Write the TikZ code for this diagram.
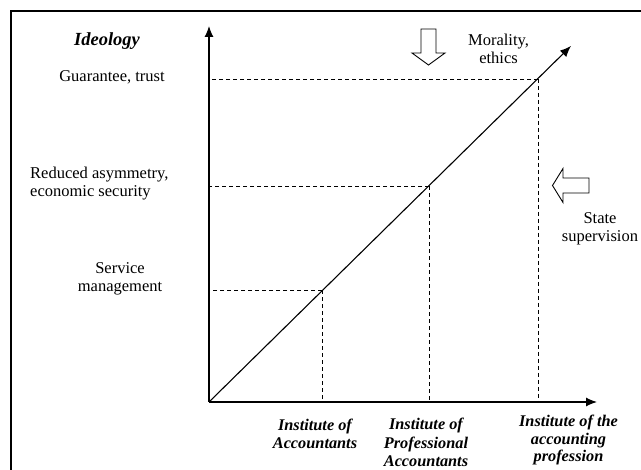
\documentclass[tikz,border=0pt]{standalone}
\usepackage{fontspec}
\setmainfont{Liberation Serif}
\usetikzlibrary{arrows.meta}
\begin{document}
\begin{tikzpicture}[x=1pt,y=-1pt,
  axis/.style={line width=1.1pt,-{Latex[length=11pt,width=9pt]}},
  guide/.style={line width=0.9pt,dash pattern=on 4pt off 3pt},
  label/.style={font=\fontsize{16.5pt}{18pt}\selectfont,inner sep=0pt,anchor=base},
  inst/.style={label,font=\fontsize{16.3pt}{18.5pt}\selectfont\bfseries\itshape},
  hollow/.style={line width=0.9pt,fill=white,line join=miter}]
  \useasboundingbox (0,0) rectangle (641,470);
  \clip (0,0) rectangle (641,470);

  % outer frame
  \draw[line width=1.5pt] (11,11) rectangle (650,480);

  % axes
  \coordinate (O) at (209,402);
  \coordinate (Ytop) at (209,26);
  \coordinate (Xend) at (597,402);
  \coordinate (Dend) at (571,46);
  \draw[axis] (O) -- (Ytop);
  \draw[axis] (O) -- (Xend);
  \draw[axis] (O) -- (Dend);

  % levels on the diagonal
  \coordinate (P1) at (322,290.5);
  \coordinate (P2) at (429,186.5);
  \coordinate (P3) at (538,79);
  \foreach \p in {P1,P2,P3}{
    \draw[guide] (\p) -- (\p -| O);
    \draw[guide] (\p) -- (\p |- O);
  }

  % influence arrows
  \draw[hollow] (421,29) -- (436,29) -- (436,53) -- (445,53) -- (428.5,65)
    -- (412,53) -- (421,53) -- cycle;
  \draw[hollow] (589,178) -- (589,193) -- (563,193) -- (563,202.5)
    -- (552.5,185.5) -- (563,168.5) -- (563,178) -- cycle;

  % vertical axis labels (multi-line nodes sit on their last baseline)
  \node[label,font=\fontsize{18.5pt}{20pt}\selectfont\bfseries\itshape] (ideo) at (107,45.5) {Ideology};
  \node[label] (trust) at (112,82) {Guarantee, trust};
  \node[label,align=left,anchor=base west] (asym) at (30,197) {Reduced asymmetry,\\economic security};
  \node[label,align=center] (serv) at (120,292) {Service\\management};

  % influences
  \node[label,align=center] (moral) at (498.5,63.5) {Morality,\\ethics};
  \node[label,align=center] (state) at (600,241.5) {State\\supervision};

  % institutions
  \node[inst,align=center] (i1) at (315,449) {Institute of\\Accountants};
  \node[inst,align=center] (i2) at (426,467) {Institute of\\Professional\\Accountants};
  \node[inst,align=center,font=\fontsize{16.3pt}{17.5pt}\selectfont\bfseries\itshape] (i3) at (568.5,462) {Institute of the\\accounting\\profession};
\end{tikzpicture}
\end{document}
